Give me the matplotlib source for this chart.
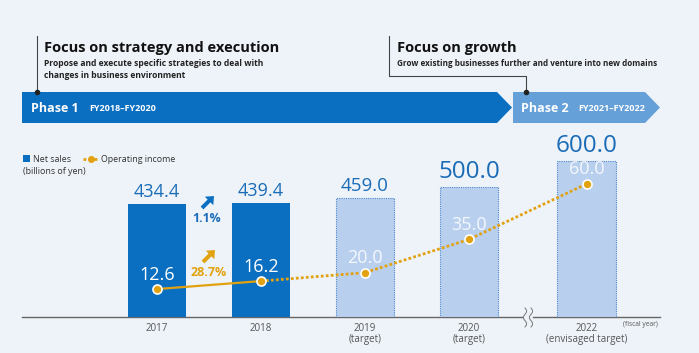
import numpy as np
import matplotlib
matplotlib.use("Agg")
import matplotlib.pyplot as plt
import matplotlib.patches as patches

plt.rcParams['font.family'] = ['Open Sans', 'DejaVu Sans']

# data
years = ['2017', '2018', '2019', '2020', '2022']
year_notes = ['', '', '(target)', '(target)', '(envisaged target)']
x_pos = [0, 1, 2, 3, 4.13]
net_sales = [434.4, 439.4, 459.0, 500.0, 600.0]
op_income = [12.6, 16.2, 20.0, 35.0, 60.0]
is_target = [False, False, True, True, True]
sales_label_size = [13, 13, 13.5, 17.5, 17.5]
growth_sales = '1.1%'
growth_income = '28.7%'

BG = '#eef3f9'
BLUE = '#0b6fc1'
LIGHT = '#b9cfee'
GOLD = '#e2a20f'
TXT_BLUE = '#1a6cb7'
W, H = 699, 353

fig = plt.figure(figsize=(W / 100, H / 100), dpi=100, facecolor=BG)

# overlay in pixel coordinates for the decorations
ov = fig.add_axes([0, 0, 1, 1])
ov.set_xlim(0, W)
ov.set_ylim(H, 0)
ov.axis('off')

# header texts
ov.text(44, 48, 'Focus on strategy and execution', fontsize=10.5, fontweight='bold',
        color='#111111', va='center')
ov.text(44, 64, 'Propose and execute specific strategies to deal with', fontsize=6.1,
        fontweight='bold', color='#222222', va='center')
ov.text(44, 75, 'changes in business environment', fontsize=6.1,
        fontweight='bold', color='#222222', va='center')
ov.text(397, 48, 'Focus on growth', fontsize=10.5, fontweight='bold',
        color='#111111', va='center')
ov.text(397, 63, 'Grow existing businesses further and venture into new domains',
        fontsize=5.9, fontweight='bold', color='#222222', va='center')

# connectors
ov.plot([37, 37], [36, 92], color='#444444', lw=0.8)
ov.plot([389, 389, 526, 526], [36, 76, 76, 92], color='#444444', lw=0.8)
ov.plot([37, 526], [92, 92], 'o', color='#222222', ms=3, zorder=5)

# phase banners
ov.add_patch(patches.Polygon([(22, 92), (497, 92), (512, 107.5), (497, 123), (22, 123)],
                             closed=True, facecolor=BLUE, edgecolor='none'))
ov.add_patch(patches.Polygon([(513, 92), (645, 92), (660, 107.5), (645, 123), (513, 123)],
                             closed=True, facecolor='#65a0d9', edgecolor='none'))
ov.text(31, 108, 'Phase 1', fontsize=9, fontweight='bold', color='white', va='center')
ov.text(89, 108.5, 'FY2018\u2013FY2020', fontsize=6.5, fontweight='bold', color='white', va='center')
ov.text(521, 108, 'Phase 2', fontsize=9, fontweight='bold', color='white', va='center')
ov.text(578, 108.5, 'FY2021\u2013FY2022', fontsize=6.5, fontweight='bold', color='white', va='center')

# legend
ov.add_patch(patches.Rectangle((23, 155), 7, 7, facecolor=BLUE, edgecolor='none'))
ov.text(33, 159, 'Net sales', fontsize=6.4, color='#333333', va='center')
ov.text(23, 172, '(billions of yen)', fontsize=6.4, color='#333333', va='center')
ov.plot([83, 99], [159, 159], color=GOLD, lw=2, linestyle=(0, (1, 1)))
ov.plot([91], [159], 'o', color=GOLD, ms=4)
ov.text(101, 159, 'Operating income', fontsize=6.4, color='#333333', va='center')

# baseline with break
ov.plot([22, 522], [317, 317], color='#666666', lw=1)
ov.plot([533, 660], [317, 317], color='#666666', lw=1)
t = np.linspace(0, 3 * np.pi, 60)
for cx in (525, 531):
    ov.plot(cx + 1.6 * np.sin(t), np.linspace(308, 327, 60), color='#777777', lw=0.7)
ov.text(640, 325, '(fiscal year)', fontsize=4.8, color='#555555', ha='center', va='center')

# growth arrows
ov.add_patch(patches.FancyArrow(202, 208, 12, -12, width=4, head_width=12, head_length=7,
                                length_includes_head=True, color=BLUE, lw=0))
ov.text(207, 219, growth_sales, fontsize=8.8, fontweight='bold', color=TXT_BLUE,
        ha='center', va='center')
ov.add_patch(patches.FancyArrow(203, 262, 12, -12, width=4, head_width=12, head_length=7,
                                length_includes_head=True, color=GOLD, lw=0))
ov.text(209, 272, growth_income, fontsize=9, fontweight='bold', color=GOLD,
        ha='center', va='center')

# data axes, baseline at y=317 px
ax_h = 180
ax = fig.add_axes([22 / W, (H - 317) / H, 638 / W, ax_h / H])
ax.patch.set_visible(False)
ax.set_xlim((22 - 157) / 104, (660 - 157) / 104)
ax.set_ylim(0, ax_h * 3.845)
for s in ax.spines.values():
    s.set_visible(False)
ax.set_yticks([])
ax.set_xticks(x_pos, years)
ax.tick_params(axis='x', length=0, pad=4, labelsize=7, labelcolor='#555555')
for x, note in zip(x_pos, year_notes):
    if note:
        ax.annotate(note, (x, 0), xytext=(0, -16), textcoords='offset points',
                    xycoords=ax.get_xaxis_transform(), ha='center', va='center',
                    fontsize=7, color='#555555')

bw = 0.56
for x, v, tgt, fs in zip(x_pos, net_sales, is_target, sales_label_size):
    if tgt:
        ax.bar(x, v, width=bw, color=LIGHT, edgecolor='#4a86cc', linestyle=(0, (1, 1)),
               linewidth=0.8)
    else:
        ax.bar(x, v, width=bw, color=BLUE, edgecolor='none')
    ax.annotate(f'{v:.1f}', (x, v), xytext=(0, 2), textcoords='offset points',
                ha='center', va='bottom', fontsize=fs, color=TXT_BLUE)

ax2 = ax.twinx()
ax2.set_ylim(0, ax_h * 0.451)
ax2.set_yticks([])
for s in ax2.spines.values():
    s.set_visible(False)
ax2.plot(x_pos[:2], op_income[:2], color=GOLD, lw=1.6, solid_capstyle='butt')
ax2.plot(x_pos[1:], op_income[1:], color=GOLD, lw=2, linestyle=(0, (1, 0.8)))
ax2.plot(x_pos, op_income, 'o', color=GOLD, ms=6.5, markeredgecolor='white', markeredgewidth=1.2)
for x, v, tgt in zip(x_pos, op_income, is_target):
    ax2.annotate(f'{v:.1f}', (x, v), xytext=(0, 4), textcoords='offset points',
                 ha='center', va='bottom', fontsize=13, color='white',
                 alpha=0.85 if tgt else 1)

fig.savefig('out.png', dpi=100, facecolor=BG)
